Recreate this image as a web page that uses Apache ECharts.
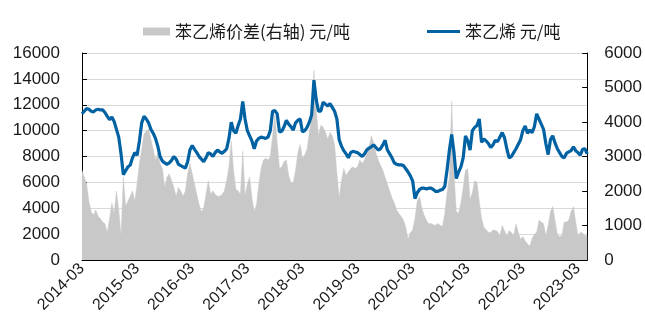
<!DOCTYPE html>
<html>
<head>
<meta charset="utf-8">
<script src="https://cdn.jsdelivr.net/npm/echarts@6/dist/echarts.min.js"></script>
<style>
  html, body { margin: 0; padding: 0; background: #fff; }
  #chart { width: 645px; height: 327px; }
</style>
</head>
<body>
<div id="chart"></div>
<script>
// Semi-monthly observations from 2014-03-01 to 2023-05-01
const startYear = 2014;
const startMonth = 3;

// 苯乙烯 价格 (元/吨), left axis
const styrenePrice = [
  11300,11500,11700,11650,11500,11450,11600,11650,11600,11600,
  11400,11100,10850,11050,10700,10100,9500,8200,6600,6900,
  7200,7350,7900,8300,8100,9200,10600,11100,10900,10600,
  10100,9800,9400,8800,8000,7650,7500,7400,7500,7700,
  8000,7800,7400,7300,7200,7100,7600,8500,8850,8550,
  8300,8000,7800,7600,7900,8300,8200,8000,8300,8500,
  8350,8250,8400,8600,9400,10650,10000,9800,10400,10900,
  12250,10900,10000,9600,9200,8600,9200,9400,9500,9450,
  9400,9500,10000,11500,11550,11300,9900,9950,10300,10800,
  10500,10300,10050,10600,10800,10900,9900,10000,10250,10650,
  11200,13900,12400,11500,11500,12200,12050,11900,12100,11800,
  11500,10900,9300,8800,8450,8200,7900,8300,8400,8350,
  8300,8150,8000,8200,8500,8650,8750,8900,8700,8500,
  8600,8900,9250,8500,8200,7900,7500,7400,7350,7350,
  7300,7050,6800,6500,6100,4750,5200,5450,5550,5550,
  5500,5550,5550,5450,5300,5300,5400,5450,5700,7000,
  8500,9700,8300,6300,6800,7200,7900,9600,9200,8500,
  10000,10250,10400,10900,9100,9350,9200,9000,8700,8900,
  9250,9150,9500,9850,9450,8600,7900,8000,8300,8600,
  8950,9300,10000,10350,9800,10050,9850,10300,11300,10900,
  10500,10100,9000,8150,9300,9600,9050,8600,8300,8000,
  7900,8250,8350,8450,8750,8450,8300,8100,8550,8600,
  8200
];

// 苯乙烯价差 (元/吨), right axis
const styreneSpread = [
  2600,2400,2200,1700,1400,1300,1450,1260,1200,1100,
  1050,800,1200,1650,1350,2000,1450,700,2400,1550,
  1700,1850,2000,1700,2200,2800,3200,3650,3750,3800,
  3500,3200,2900,3100,2800,2650,2100,2400,2500,2300,
  2100,1850,2100,2000,1850,2000,2500,2800,2500,2200,
  1900,1600,1400,1500,1900,2300,1900,2000,1900,1850,
  1850,1900,2000,2300,2700,3450,2600,2050,2000,1900,
  3150,1850,2200,2400,1800,1400,1600,2200,2650,2900,
  2950,2900,3000,3600,4200,3400,2650,2700,2850,2900,
  2450,2250,2250,2600,3100,3350,2950,3050,3200,3700,
  4100,5500,4350,3600,3900,3850,3700,3500,3700,3600,
  3350,2500,1800,2300,2650,2450,2550,2650,2700,2650,
  2700,2900,2800,2900,3100,3250,3600,3400,3100,2900,
  2750,2600,2400,2200,2000,1800,1650,1450,1350,1260,
  1150,950,600,800,870,1200,1700,1840,1500,1300,
  1150,1050,1060,1020,1010,1060,1000,980,1350,1950,
  2400,4600,2500,1400,1350,1650,2100,2600,2650,1750,
  1950,2300,2250,1700,1200,950,880,800,800,870,
  860,820,700,1000,850,700,850,800,700,1050,
  800,600,680,550,470,400,620,750,800,1150,
  1100,1050,700,1000,1400,1550,1150,750,680,700,
  1100,1100,1150,1400,1550,1100,700,800,780,700,
  700
];

const leftTicks = { min: 0, max: 16000, interval: 2000 };
const rightTicks = { min: 0, max: 6000, interval: 1000 };

const seriesNames = ['苯乙烯价差(右轴) 元/吨', '苯乙烯 元/吨'];

// Date categories: the 1st and 16th of each month
const dates = styrenePrice.map((_, i) => {
  const mi = startMonth - 1 + Math.floor(i / 2);
  const y = startYear + Math.floor(mi / 12);
  const m = String(mi % 12 + 1).padStart(2, '0');
  return `${y}-${m}-${i % 2 ? '16' : '01'}`;
});

const isMarchStart = (idx) => idx % 24 === 0;
const plainNumber = (v) => String(v);

const FONT = "'Liberation Sans', Arial, sans-serif";
const CJK = "'Noto Sans CJK SC', 'Liberation Sans', sans-serif";

const chart = echarts.init(document.getElementById('chart'), null, { renderer: 'canvas' });
chart.setOption({
  animation: false,
  backgroundColor: '#ffffff',
  grid: { left: 82, right: 57, top: 53, bottom: 67, containLabel: false },
  legend: [
    {
      data: [seriesNames[0]], left: 138, top: 18,
      icon: 'rect', itemWidth: 27, itemHeight: 8, itemGap: 6,
      textStyle: { fontFamily: CJK, fontSize: 17, color: '#1a1a1a' }
    },
    {
      data: [seriesNames[1]], left: 422, top: 18,
      icon: 'rect', itemWidth: 33, itemHeight: 3,
      textStyle: { fontFamily: CJK, fontSize: 17, color: '#1a1a1a' }
    }
  ],
  xAxis: {
    type: 'category',
    data: dates,
    boundaryGap: false,
    axisLine: { lineStyle: { color: '#000', width: 1 } },
    axisTick: { inside: true, length: 5, interval: isMarchStart, lineStyle: { color: '#000' } },
    axisLabel: {
      interval: isMarchStart,
      rotate: 45,
      margin: 6,
      fontFamily: FONT, fontSize: 16, color: '#1a1a1a',
      formatter: (v) => v.slice(0, 7)
    },
    splitLine: { show: false }
  },
  yAxis: [
    {
      type: 'value', position: 'left',
      min: leftTicks.min, max: leftTicks.max, interval: leftTicks.interval,
      axisLine: { show: true, lineStyle: { color: '#000' } },
      axisTick: { show: true, inside: true, length: 5, lineStyle: { color: '#000' } },
      axisLabel: { margin: 22, fontFamily: FONT, fontSize: 17, color: '#1a1a1a', formatter: plainNumber },
      splitLine: { show: true, lineStyle: { color: '#d9d9d9', width: 1 } }
    },
    {
      type: 'value', position: 'right',
      min: rightTicks.min, max: rightTicks.max, interval: rightTicks.interval,
      axisLine: { show: true, lineStyle: { color: '#000' } },
      axisTick: { show: true, inside: true, length: 5, lineStyle: { color: '#000' } },
      axisLabel: { margin: 17, fontFamily: FONT, fontSize: 17, color: '#1a1a1a', formatter: plainNumber },
      splitLine: { show: false }
    }
  ],
  series: [
    {
      name: seriesNames[0],
      type: 'line',
      yAxisIndex: 1,
      data: styreneSpread,
      showSymbol: false,
      symbol: 'none',
      color: '#c8c8c8',
      lineStyle: { width: 0.5, color: '#c8c8c8' },
      areaStyle: { color: '#c8c8c8', opacity: 1 },
      z: 1
    },
    {
      name: seriesNames[1],
      type: 'line',
      yAxisIndex: 0,
      data: styrenePrice,
      showSymbol: false,
      symbol: 'none',
      color: '#0062a3',
      lineStyle: { width: 3.2, color: '#0062a3' },
      z: 3
    }
  ]
});
</script>
</body>
</html>
